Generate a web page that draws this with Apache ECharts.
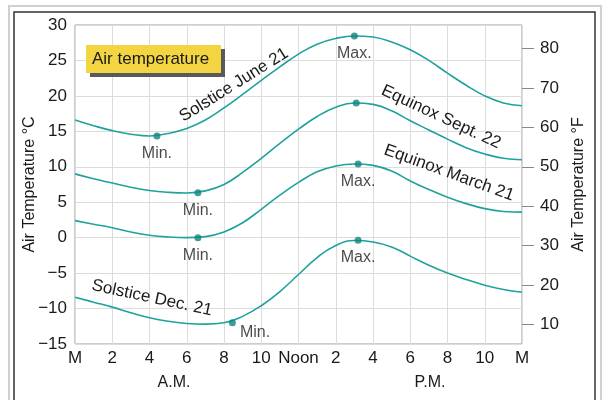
<!DOCTYPE html>
<html>
<head>
<meta charset="utf-8">
<script src="https://cdn.jsdelivr.net/npm/echarts@6/dist/echarts.min.js"></script>
<style>
  html, body { margin: 0; padding: 0; background: #fff; }
  #main { width: 602px; height: 400px; }
</style>
</head>
<body>
<div id="main"></div>
<script>
// hours after midnight
const hours = [0, 1, 2, 3, 4, 5, 6, 7, 8, 9, 10, 11, 12, 13, 14, 15, 16, 17, 18, 19, 20, 21, 22, 23, 24];

// air temperature, degrees C
const juneTemps  = [16.6, 15.8, 15.1, 14.6, 14.35, 14.7, 15.4, 16.6, 18.3, 20.2, 22.2, 24.1, 25.9, 27.3, 28.1, 28.45, 28.3, 27.6, 26.5, 25.0, 23.2, 21.5, 20.0, 19.0, 18.6];
const septTemps  = [9.0, 8.3, 7.7, 7.1, 6.65, 6.4, 6.3, 6.6, 7.5, 9.2, 11.2, 13.3, 15.3, 17.1, 18.4, 19.0, 18.8, 17.9, 16.5, 15.2, 13.9, 12.7, 11.8, 11.2, 11.0];
const marchTemps = [2.4, 1.9, 1.4, 0.8, 0.35, 0.1, 0.0, 0.15, 0.8, 2.1, 4.0, 6.0, 7.8, 9.3, 10.1, 10.4, 10.2, 9.4, 8.0, 6.8, 5.7, 4.8, 4.1, 3.7, 3.6];
const decTemps   = [-8.4, -9.1, -9.8, -10.6, -11.3, -11.8, -12.1, -12.2, -12.0, -11.1, -9.6, -7.6, -5.2, -2.8, -1.1, -0.4, -0.6, -1.3, -2.6, -3.9, -5.0, -5.9, -6.7, -7.3, -7.7];

// marked minima / maxima
const extremeHours = [4.4, 15.0, 6.6, 15.1, 6.6, 15.2, 8.45, 15.2];
const extremeTemps = [14.35, 28.45, 6.35, 19.0, 0.0, 10.4, -12.0, -0.35];
const extremeTags  = ['Min.', 'Max.', 'Min.', '', 'Min.', 'Max.', 'Min.', 'Max.'];

const hourLabels = ['M', '2', '4', '6', '8', '10', 'Noon', '2', '4', '6', '8', '10', 'M'];
const fahrenheitTicks = [10, 20, 30, 40, 50, 60, 70, 80];

const teal = '#1fa29c';
const dotColor = '#0f8580';
const font = 'Liberation Sans, Arial, sans-serif';

function pairs(temps) {
    return hours.map((h, i) => [h, temps[i]]);
}

function curve(name, temps) {
    return {
        name: name,
        type: 'line',
        data: pairs(temps),
        smooth: 0.45,
        symbol: 'none',
        lineStyle: {color: teal, width: 1.6},
        yAxisIndex: 0,
        z: 3
    };
}

let extremes = extremeHours.map((h, i) => {
    let tag = extremeTags[i];
    let item = {value: [h, extremeTemps[i]], label: {show: tag !== '', formatter: tag}};
    if (tag === 'Min.' && extremeTemps[i] < -10) {
        item.label.position = 'right';
        item.label.offset = [-2, 10];
    }
    return item;
});

let chart = echarts.init(document.getElementById('main'));

let option = {
    animation: false,
    textStyle: {fontFamily: font},
    grid: {left: 75, right: 80, top: 25, bottom: 56, show: true, borderColor: '#9a9a9a', borderWidth: 1},
    xAxis: {
        type: 'value',
        min: 0,
        max: 24,
        interval: 2,
        axisLine: {show: false},
        axisTick: {show: false},
        splitLine: {show: true, lineStyle: {color: '#dcdcdc'}},
        axisLabel: {
            fontSize: 17,
            color: '#1a1a1a',
            margin: 6,
            formatter: v => hourLabels[v / 2]
        }
    },
    yAxis: [{
        type: 'value',
        min: -15,
        max: 30,
        interval: 5,
        name: 'Air Temperature °C',
        nameLocation: 'middle',
        nameGap: 37,
        nameMoveOverlap: false,
        nameTextStyle: {fontSize: 16, color: '#1a1a1a'},
        axisLine: {show: false},
        axisTick: {show: false},
        splitLine: {show: true, lineStyle: {color: '#dcdcdc'}},
        axisLabel: {
            fontSize: 17,
            color: '#1a1a1a',
            margin: 8,
            formatter: v => String(v).replace('-', '\u2212')
        }
    }, {
        type: 'value',
        position: 'right',
        min: 5,
        max: 86,
        name: 'Air Temperature °F',
        nameLocation: 'middle',
        nameGap: 49,
        nameRotate: 90,
        nameTextStyle: {fontSize: 16, color: '#1a1a1a'},
        axisLine: {show: false},
        splitLine: {show: false},
        axisTick: {
            show: true,
            length: 12,
            inside: false,
            customValues: fahrenheitTicks,
            lineStyle: {color: '#888'}
        },
        axisLabel: {
            fontSize: 17,
            color: '#1a1a1a',
            margin: 18,
            customValues: fahrenheitTicks
        }
    }],
    series: [
        curve('Solstice June 21', juneTemps),
        curve('Equinox Sept. 22', septTemps),
        curve('Equinox March 21', marchTemps),
        curve('Solstice Dec. 21', decTemps),
        {
            name: 'extremes',
            type: 'scatter',
            data: extremes,
            symbolSize: 7,
            itemStyle: {color: dotColor},
            label: {position: 'bottom', distance: 6, fontSize: 16, color: '#1a1a1a'},
            z: 4
        }
    ]
};

chart.setOption(option);

function noteText(x, y, angle, text) {
    return {
        type: 'text',
        x: x,
        y: y,
        rotation: angle * Math.PI / 180,
        z: 10,
        style: {text: text, fontSize: 17, fontFamily: font, fill: '#1a1a1a', align: 'center', verticalAlign: 'middle'}
    };
}

chart.setOption({
    graphic: [
        {type: 'rect', shape: {x: 9, y: 6, width: 592, height: 420}, style: {fill: null, stroke: '#d0d0d0', lineWidth: 2}, silent: true},
        {type: 'rect', shape: {x: 14, y: 12, width: 581, height: 410}, style: {fill: null, stroke: '#333', lineWidth: 1.5}, silent: true},
        {type: 'rect', shape: {x: 90, y: 49, width: 135, height: 28}, style: {fill: '#5a5a5a'}, z: 9},
        {type: 'rect', shape: {x: 86, y: 45, width: 135, height: 28}, style: {fill: '#f2d540'}, z: 9},
        {type: 'text', x: 92, y: 59, z: 10, style: {text: 'Air temperature', fontSize: 17, fontFamily: font, fill: '#1a1a1a', verticalAlign: 'middle'}},
        noteText(234, 85, 32, 'Solstice June 21'),
        noteText(441, 117, -25, 'Equinox Sept. 22'),
        noteText(449, 173, -20, 'Equinox March 21'),
        noteText(152, 298, -12, 'Solstice Dec. 21'),
        {type: 'text', x: 174, y: 383, style: {text: 'A.M.', fontSize: 16, fontFamily: font, fill: '#1a1a1a', align: 'center', verticalAlign: 'middle'}},
        {type: 'text', x: 430, y: 383, style: {text: 'P.M.', fontSize: 16, fontFamily: font, fill: '#1a1a1a', align: 'center', verticalAlign: 'middle'}}
    ]
});
</script>
</body>
</html>
